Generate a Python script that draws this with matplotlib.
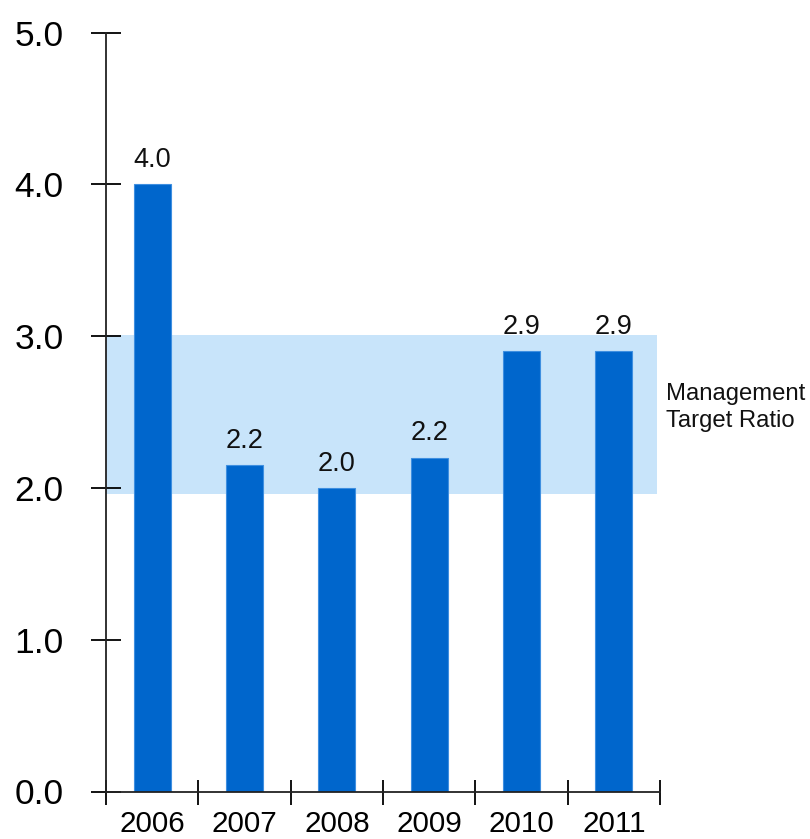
import numpy as np
import matplotlib
matplotlib.use("Agg")
import matplotlib.pyplot as plt

plt.rcParams['font.family'] = ['Liberation Sans', 'DejaVu Sans']

# -----------------------------
# DATA
# -----------------------------

years = ["2006", "2007", "2008", "2009", "2010", "2011"]
values = [4.0, 2.15, 2.0, 2.2, 2.9, 2.9]
value_labels = ["4.0", "2.2", "2.0", "2.2", "2.9", "2.9"]

target_low = 1.96
target_high = 3.01
target_text = "Management\nTarget Ratio"

y_ticks = [0, 1, 2, 3, 4, 5]
y_tick_labels = ["0.0", "1.0", "2.0", "3.0", "4.0", "5.0"]

bar_color = "#0066CC"
band_color = "#C8E4FA"

# -----------------------------
# PLOT
# -----------------------------

fig = plt.figure(figsize=(8.10, 8.39), dpi=100)
ax = fig.add_axes([106/810, 47.5/839, 554/810, 759/839])

x = np.arange(len(years))

ax.axhspan(target_low, target_high, xmin=0, xmax=551/554,
           color=band_color, zorder=0, lw=0)

ax.bar(x, values, width=0.4, color=bar_color,
       edgecolor="#3f8fe0", linewidth=0.8, zorder=2)

for xi, v, lab in zip(x, values, value_labels):
    ax.annotate(lab, (xi, v), xytext=(0, 12.5), textcoords="offset points",
                ha="center", va="baseline", fontsize=19.5, color="#111111")

ax.text(5.565, 2.53, target_text, ha="left", va="center",
        fontsize=17.2, linespacing=1.25, color="#111111", clip_on=False)

ax.set_xlim(-0.5, len(years) - 0.5)
ax.set_ylim(0, 5)

# category boundaries as major ticks, labels on minor ticks
ax.set_xticks(np.arange(-0.5, len(years), 1.0))
ax.set_xticklabels([])
ax.set_xticks(x, minor=True)
ax.set_xticklabels(years, minor=True, fontsize=21.3)
ax.tick_params(axis="x", which="major", direction="inout", length=18, width=1.3)
ax.tick_params(axis="x", which="minor", length=0, pad=13)

ax.set_yticks(y_ticks)
ax.set_yticklabels(y_tick_labels, fontsize=25.5)
ax.tick_params(axis="y", direction="inout", length=21, width=1.3, pad=20)

for s in ["top", "right"]:
    ax.spines[s].set_visible(False)
for s in ["left", "bottom"]:
    ax.spines[s].set_linewidth(1.3)
    ax.spines[s].set_color("#222222")

fig.savefig("out.png", dpi=100)
